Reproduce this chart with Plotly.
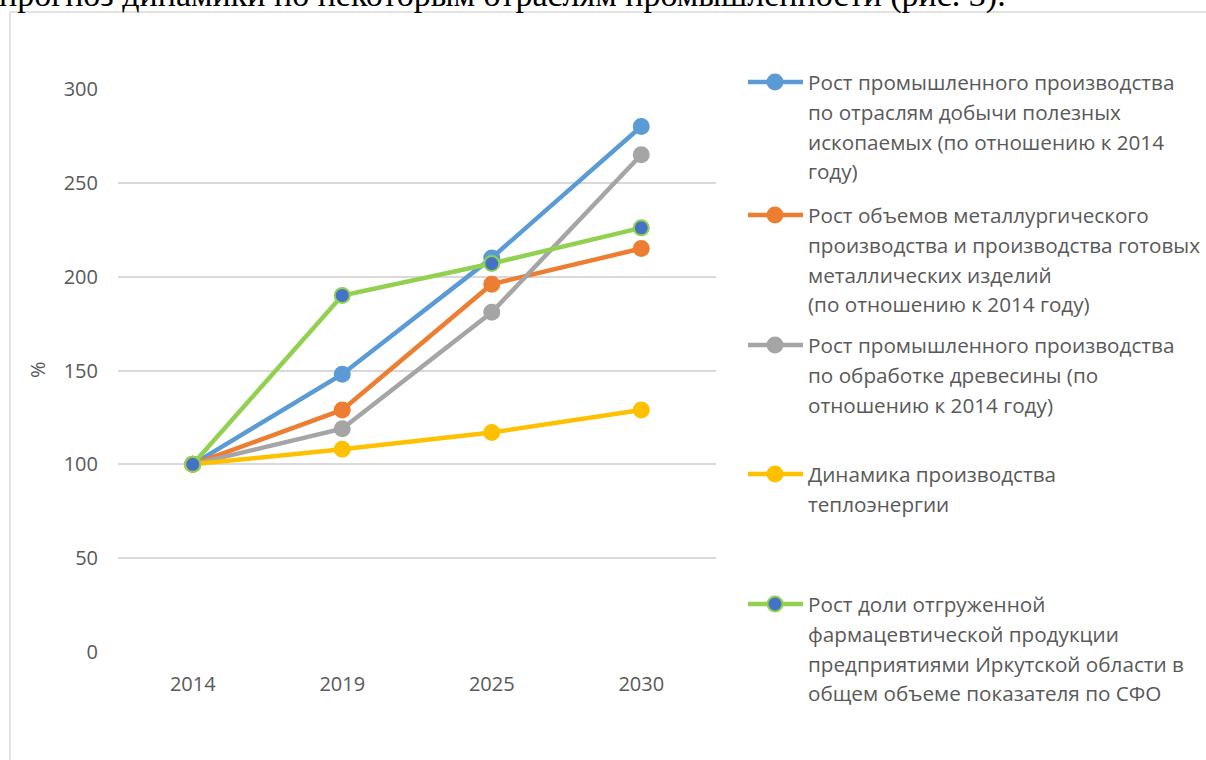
import plotly.graph_objects as go

years = ["2014", "2019", "2025", "2030"]
mining = [100, 148, 210, 280]
metallurgy = [100, 129, 196, 215]
wood = [100, 119, 181, 265]
heat = [100, 108, 117, 129]
pharma = [100, 190, 207, 226]

y_ticks = [0, 50, 100, 150, 200, 250, 300]

legend_texts = [
    ["Рост промышленного производства", "по отраслям добычи полезных",
     "ископаемых (по отношению к 2014", "году)"],
    ["Рост объемов металлургического", "производства и производства готовых",
     "металлических изделий", "(по отношению к 2014 году)"],
    ["Рост промышленного производства", "по обработке древесины (по",
     "отношению к 2014 году)"],
    ["Динамика производства", "теплоэнергии"],
    ["Рост доли отгруженной", "фармацевтической продукции",
     "предприятиями Иркутской области в", "общем объеме показателя по СФО"],
]

W, H = 1206, 760
L, R, T, B = 118, 716, 89, 652
FONT = "Open Sans"
FS = 20
LFS = 20.7
TXT = "#595959"

def px(x):
    return (x - L) / (R - L)

def py(y):
    return (B - y) / (B - T)

series = [
    (mining, "#5B9BD5", "#5B9BD5"),
    (metallurgy, "#ED7D31", "#ED7D31"),
    (wood, "#A5A5A5", "#A5A5A5"),
    (heat, "#FFC000", "#FFC000"),
    (pharma, "#92D050", "#4472C4"),
]

fig = go.Figure()
for (vals, col, mcol), txt in zip(series, legend_texts):
    fig.add_trace(go.Scatter(
        x=years, y=vals, mode="lines+markers", name=" ".join(txt),
        line=dict(color=col, width=4.5),
        marker=dict(size=15, color=mcol, line=dict(color=col, width=2)),
        showlegend=False,
    ))

shapes = []
annotations = []
# chart border
shapes.append(dict(type="rect", xref="paper", yref="paper",
                   x0=px(10), x1=px(1215), y0=py(770), y1=py(12),
                   line=dict(color="#d9d9d9", width=1.5), fillcolor="rgba(0,0,0,0)",
                   layer="below"))

entry_y = [82, 215, 345, 474, 604]
line_gap = 29.8
for (vals, col, mcol), txt, ey in zip(series, legend_texts, entry_y):
    shapes.append(dict(type="line", xref="paper", yref="paper",
                       x0=px(748), x1=px(803), y0=py(ey), y1=py(ey),
                       line=dict(color=col, width=4.5)))
    r = 7.5
    shapes.append(dict(type="circle", xref="paper", yref="paper",
                       x0=px(775 - r), x1=px(775 + r), y0=py(ey + r), y1=py(ey - r),
                       fillcolor=mcol, line=dict(color=col, width=2)))
    for i, t in enumerate(txt):
        annotations.append(dict(text=t, xref="paper", yref="paper",
                                x=px(806), y=py(ey + i * line_gap),
                                xanchor="left", yanchor="middle", showarrow=False,
                                font=dict(family=FONT, size=LFS, color=TXT)))

# y axis title
annotations.append(dict(text="%", xref="paper", yref="paper", x=px(37), y=py(370),
                        xanchor="center", yanchor="middle", showarrow=False, textangle=-90,
                        font=dict(family=FONT, size=FS, color=TXT)))

# top page text (partially cut)
annotations.append(dict(text="прогноз динамики по некоторым отраслям промышленности (рис. 3).",
                        xref="paper", yref="paper", x=px(-3), y=py(-5),
                        xanchor="left", yanchor="middle", showarrow=False,
                        font=dict(family="Liberation Serif", size=34, color="black")))

fig.update_layout(
    width=W, height=H,
    margin=dict(l=L, r=W - R, t=T, b=H - B),
    paper_bgcolor="white", plot_bgcolor="white",
    shapes=shapes, annotations=annotations,
    xaxis=dict(type="category", range=[-0.5, 3.5], showgrid=False, showline=False,
               zeroline=False, ticks="", tickfont=dict(family=FONT, size=FS, color=TXT),
               ticklabelstandoff=18),
    yaxis=dict(range=[0, 300], tickvals=y_ticks, showgrid=True, gridcolor="#d9d9d9",
               gridwidth=1.5, zeroline=False, showline=False, ticks="",
               tickfont=dict(family=FONT, size=FS, color=TXT), ticklabelstandoff=19),
)

fig.write_html("out.html", config={"displayModeBar": False},
               post_script="document.body.style.margin='0';document.body.style.padding='0';")
